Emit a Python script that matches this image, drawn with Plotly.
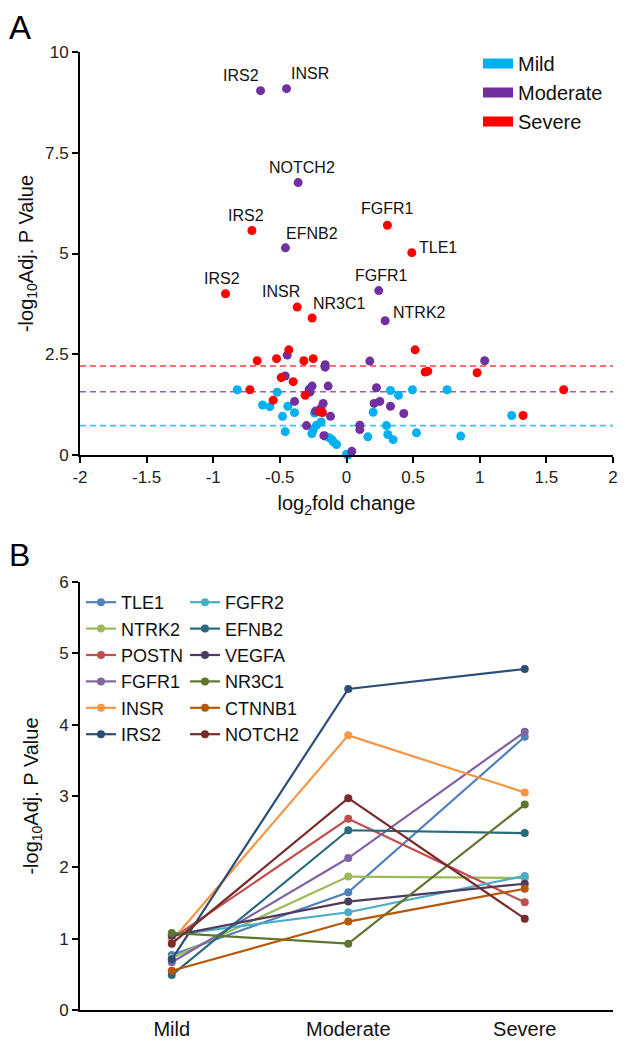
import plotly.graph_objects as go

# ---------------- Panel A data (volcano) ----------------
mild_x = [-0.82, -0.52, -0.63, -0.575, -0.44, -0.48, -0.39, -0.24, -0.46, -0.19,
          -0.225, -0.25, -0.26, -0.16, -0.11, -0.10, -0.075, 0.0, 0.01, -0.13,
          0.20, 0.33, 0.39, 0.495, 0.755, 0.30, 0.31, 0.35, 0.16, 0.525, 0.857, 1.24]
mild_y = [1.62, 1.56, 1.24, 1.20, 1.21, 0.96, 1.05, 1.04, 0.58, 0.82,
          0.74, 0.62, 0.53, 0.47, 0.38, 0.33, 0.26, 0.02, 0.0, 0.43,
          1.06, 1.60, 1.48, 1.62, 1.62, 0.73, 0.51, 0.38, 0.45, 0.55, 0.47, 0.98]

mod_x = [-0.645, -0.45, -0.363, -0.458, 0.242, 0.29,
         -0.445, -0.16, -0.16, 0.175, 1.037, -0.46, -0.258, -0.138, -0.28, -0.275,
         0.225, -0.39, -0.175, -0.19, -0.233, 0.207, 0.25, 0.33, 0.43, -0.12,
         -0.30, 0.10, 0.10, -0.17, 0.04]
mod_y = [9.04, 9.09, 6.76, 5.14, 4.08, 3.33,
         2.48, 2.24, 2.18, 2.33, 2.34, 1.96, 1.71, 1.71, 1.63, 1.56,
         1.67, 1.33, 1.28, 1.17, 1.09, 1.28, 1.33, 1.21, 1.03, 0.96,
         0.73, 0.74, 0.63, 0.48, 0.09]
mod_genes = ["IRS2", "INSR", "NOTCH2", "EFNB2", "FGFR1", "NTRK2"]

sev_x = [-0.71, 0.307, 0.49, -0.908, -0.37, -0.258,
         -0.433, -0.67, -0.525, -0.32, -0.25, 0.515, 0.59, 0.61, 0.98, -0.49,
         -0.40, -0.725, -0.31, -0.55, -0.20, -0.18, 1.63, 1.325]
sev_y = [5.57, 5.70, 5.02, 4.00, 3.67, 3.40,
         2.61, 2.34, 2.39, 2.34, 2.39, 2.61, 2.06, 2.08, 2.04, 1.92,
         1.82, 1.62, 1.48, 1.36, 1.07, 1.05, 1.62, 0.98]
sev_genes = ["IRS2", "FGFR1", "TLE1", "IRS2", "INSR", "NR3C1"]

threshold_mild = 0.73
threshold_mod = 1.57
threshold_sev = 2.21

x_ticks_a = [-2, -1.5, -1, -0.5, 0, 0.5, 1, 1.5, 2]
x_ticktext_a = ["-2", "-1.5", "-1", "-0.5", "0", "0.5", "1", "1.5", "2"]
y_ticks_a = [0, 2.5, 5, 7.5, 10]
y_ticktext_a = ["0", "2.5", "5", "7.5", "10"]

# ---------------- Panel B data (lines) ----------------
stages = ["Mild", "Moderate", "Severe"]
TLE1 = [0.77, 1.65, 3.83]
NTRK2 = [0.73, 1.87, 1.85]
POSTN = [1.00, 2.68, 1.51]
FGFR1 = [0.67, 2.13, 3.90]
INSR = [0.97, 3.85, 3.05]
IRS2 = [0.71, 4.50, 4.78]
FGFR2 = [1.05, 1.37, 1.88]
EFNB2 = [0.49, 2.52, 2.48]
VEGFA = [1.04, 1.52, 1.77]
NR3C1 = [1.08, 0.93, 2.88]
CTNNB1 = [0.55, 1.24, 1.70]
NOTCH2 = [0.93, 2.97, 1.28]

# ---------------- styles ----------------
FONT = "Liberation Sans, Arial, sans-serif"
C_MILD, C_MOD, C_SEV = "#00B0F0", "#7030A0", "#FF0000"

# label placement: (xanchor, yanchor, xshift, yshift)
mod_label_pos = [("right", "bottom", 0, 5), ("left", "bottom", 2, 5), ("center", "bottom", 4, 5),
                 ("left", "bottom", -1, 4), ("center", "bottom", 3, 5), ("left", "middle", 6, 8)]
sev_label_pos = [("center", "bottom", -6, 5), ("center", "bottom", 0, 6), ("left", "middle", 5, 5),
                 ("center", "bottom", -4, 5), ("right", "bottom", 5, 5), ("left", "bottom", -1, 4)]

line_series = [
    ("TLE1", TLE1, "#4F81BD", "legend2"),
    ("NTRK2", NTRK2, "#9BBB59", "legend2"),
    ("POSTN", POSTN, "#C0504D", "legend2"),
    ("FGFR1", FGFR1, "#8064A2", "legend2"),
    ("INSR", INSR, "#F79646", "legend2"),
    ("IRS2", IRS2, "#2C4D75", "legend2"),
    ("FGFR2", FGFR2, "#4BACC6", "legend3"),
    ("EFNB2", EFNB2, "#276A7C", "legend3"),
    ("VEGFA", VEGFA, "#4D3B62", "legend3"),
    ("NR3C1", NR3C1, "#5F7530", "legend3"),
    ("CTNNB1", CTNNB1, "#B65708", "legend3"),
    ("NOTCH2", NOTCH2, "#772C2A", "legend3"),
]

# page is offset by the default 8px body margin; layout is given in page pixels
OFF = 8
W, H = 630 - OFF, 1050 - OFF
ML, MR, MT, MB = 80 - OFF, 17, 12, 12
PW = W - ML - MR
PH = H - MT - MB


def yfrac(page_px):
    return (H - MB - (page_px - OFF)) / PH


def xfrac(page_px):
    return (page_px - OFF - ML) / PW


fig = go.Figure()

# threshold lines
for t, c in [(threshold_sev, C_SEV), (threshold_mod, C_MOD), (threshold_mild, C_MILD)]:
    fig.add_trace(go.Scatter(x=[x_ticks_a[0], x_ticks_a[-1]], y=[t, t], mode="lines",
                             line=dict(color=c, width=1.6, dash="6px,4px"), opacity=0.75,
                             showlegend=False, hoverinfo="skip", xaxis="x", yaxis="y"))

# scatter points
for xs, ys, c in [(mild_x, mild_y, C_MILD), (mod_x, mod_y, C_MOD), (sev_x, sev_y, C_SEV)]:
    fig.add_trace(go.Scatter(x=xs, y=ys, mode="markers", marker=dict(color=c, size=9),
                             showlegend=False, cliponaxis=False, xaxis="x", yaxis="y"))

# legend entries for panel A
for name, c in [("Mild", C_MILD), ("Moderate", C_MOD), ("Severe", C_SEV)]:
    fig.add_trace(go.Scatter(x=[None], y=[None], mode="lines", name=name,
                             line=dict(color=c, width=14), legend="legend",
                             xaxis="x", yaxis="y"))

annotations = []
for genes, xs, ys, pos in [(mod_genes, mod_x, mod_y, mod_label_pos),
                           (sev_genes, sev_x, sev_y, sev_label_pos)]:
    for i, g in enumerate(genes):
        xa, ya, xsft, ysft = pos[i]
        annotations.append(dict(x=xs[i], y=ys[i], xref="x", yref="y", text=g, showarrow=False,
                                xanchor=xa, yanchor=ya, xshift=xsft, yshift=ysft,
                                font=dict(family=FONT, size=16, color="#111")))

# line chart
for name, vals, c, lg in line_series:
    fig.add_trace(go.Scatter(x=stages, y=vals, mode="lines+markers", name=name,
                             line=dict(color=c, width=2.2), marker=dict(color=c, size=8),
                             legend=lg, xaxis="x2", yaxis="y2", cliponaxis=False))

annotations.append(dict(x=xfrac(8), y=yfrac(8), xref="paper", yref="paper", text="A", showarrow=False,
                        xanchor="left", yanchor="top", borderpad=0,
                        font=dict(family=FONT, size=33, color="#000")))
annotations.append(dict(x=xfrac(8), y=yfrac(536), xref="paper", yref="paper", text="B", showarrow=False,
                        xanchor="left", yanchor="top", borderpad=0,
                        font=dict(family=FONT, size=32, color="#000")))

axis_common = dict(showgrid=False, zeroline=False, showline=True, linecolor="#000", linewidth=2,
                   automargin=False, tickfont=dict(family=FONT, size=17, color="#222"))

fig.update_layout(
    width=W, height=H,
    margin=dict(l=ML, r=MR, t=MT, b=MB),
    paper_bgcolor="white", plot_bgcolor="white",
    font=dict(family=FONT, color="#111"),
    xaxis=dict(domain=[0, 1], anchor="y", range=[-2, 2], tickvals=x_ticks_a, ticktext=x_ticktext_a,
               ticks="outside", ticklen=6, tickwidth=2, tickcolor="#000",
               title=dict(text="log<sub>2</sub>fold change", font=dict(family=FONT, size=20, color="#111"),
                          standoff=10),
               **axis_common),
    yaxis=dict(domain=[yfrac(455), yfrac(52)], anchor="x", range=[0, 10], tickvals=y_ticks_a,
               ticktext=y_ticktext_a, ticks="outside", ticklen=6, tickwidth=2, tickcolor="#000",
               title=dict(text="-log<sub>10</sub>Adj. P Value", font=dict(family=FONT, size=20, color="#111"),
                          standoff=6),
               **axis_common),
    xaxis2=dict(domain=[0, 1], anchor="y2", type="category", categoryorder="array",
                categoryarray=stages, range=[-0.52, 2.5], ticks="",
                **{**axis_common, "tickfont": dict(family=FONT, size=20, color="#111")}),
    yaxis2=dict(domain=[yfrac(1010), yfrac(582)], anchor="x2", range=[0, 6], dtick=1,
                ticks="outside", ticklen=6, tickwidth=2, tickcolor="#000",
                title=dict(text="-log<sub>10</sub>Adj. P Value", font=dict(family=FONT, size=20, color="#111"),
                           standoff=15),
                **axis_common),
    legend=dict(x=xfrac(478), y=yfrac(44), xanchor="left", yanchor="top",
                font=dict(family=FONT, size=20, color="#111"), bgcolor="rgba(0,0,0,0)",
                tracegroupgap=0, itemclick=False),
    legend2=dict(x=xfrac(81), y=yfrac(584), xanchor="left", yanchor="top",
                 font=dict(family=FONT, size=18, color="#111"), bgcolor="rgba(0,0,0,0)",
                 tracegroupgap=0),
    legend3=dict(x=xfrac(185), y=yfrac(584), xanchor="left", yanchor="top",
                 font=dict(family=FONT, size=18, color="#111"), bgcolor="rgba(0,0,0,0)",
                 tracegroupgap=0),
    annotations=annotations,
)

fig.write_html("out.html")
